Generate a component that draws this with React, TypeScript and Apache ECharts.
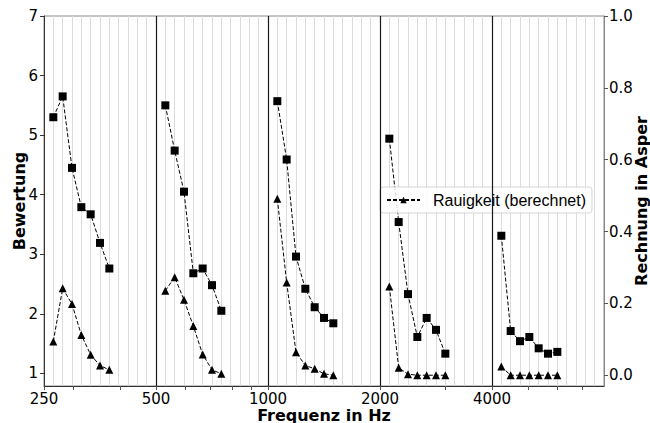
import React, { useEffect, useRef } from "react";
import * as echarts from "echarts";

// Octave bands (x axis major labels)
const octaveFreqs = [250, 500, 1000, 2000, 4000];
const octaveLabels = ["250", "500", "1000", "2000", "4000"];
// semitone steps within each band where measurements sit
const stepPositions = [1, 2, 3, 4, 5, 6, 7];
// log-scale minor tick frequencies
const minorTickFreqs = [300, 400, 600, 700, 800, 900, 3000, 5000, 6000, 7000];

// Bewertung (left axis), one array per octave band
const bewertung250 = [5.3, 5.65, 4.45, 3.79, 3.67, 3.19, 2.76];
const bewertung500 = [5.5, 4.74, 4.05, 2.68, 2.76, 2.48, 2.05];
const bewertung1000 = [5.57, 4.59, 2.96, 2.42, 2.11, 1.93, 1.84];
const bewertung2000 = [4.94, 3.54, 2.33, 1.61, 1.93, 1.73, 1.33];
const bewertung4000 = [3.31, 1.71, 1.54, 1.61, 1.42, 1.33, 1.36];

// Rauigkeit (berechnet) in Asper (right axis)
const rauigkeit250 = [0.094, 0.242, 0.198, 0.112, 0.057, 0.027, 0.015];
const rauigkeit500 = [0.235, 0.273, 0.21, 0.137, 0.058, 0.015, 0.004];
const rauigkeit1000 = [0.491, 0.258, 0.064, 0.027, 0.018, 0.004, 0.0];
const rauigkeit2000 = [0.247, 0.021, 0.003, 0.0, 0.0, 0.0, 0.0];
const rauigkeit4000 = [0.024, 0.0, 0.0, 0.0, 0.0, 0.0, 0.0];

const leftTicks = [1, 2, 3, 4, 5, 6, 7];
const rightTicks = [0, 0.2, 0.4, 0.6, 0.8, 1.0];

const bewertungBands = [bewertung250, bewertung500, bewertung1000, bewertung2000, bewertung4000];
const rauigkeitBands = [rauigkeit250, rauigkeit500, rauigkeit1000, rauigkeit2000, rauigkeit4000];

const semitoneOf = (f: number) => 12 * Math.log2(f / 250);

export default function App() {
  const ref = useRef<HTMLDivElement>(null);
  useEffect(() => {
    if (!ref.current) return;
    const chart = echarts.init(ref.current, null, { renderer: "svg" });
    const tickFont = "DejaVu Sans";
    const titleFont = "DejaVu Sans";
    const majorPos = octaveFreqs.map(semitoneOf);
    const minorPos = minorTickFreqs.map(semitoneOf);

    const dashed = { color: "#000", width: 1, type: [4, 2] as any };
    const series: any[] = [];
    bewertungBands.forEach((band, b) => {
      series.push({
        name: "Bewertung",
        type: "line",
        xAxisIndex: 0,
        yAxisIndex: 0,
        symbol: "rect",
        symbolSize: 8,
        itemStyle: { color: "#000" },
        lineStyle: dashed,
        data: band.map((v, i) => [semitoneOf(octaveFreqs[b]) + stepPositions[i], v]),
        z: 3,
      });
    });
    rauigkeitBands.forEach((band, b) => {
      series.push({
        name: "Rauigkeit (berechnet)",
        type: "line",
        xAxisIndex: 0,
        yAxisIndex: 1,
        symbol: "triangle",
        symbolSize: 8,
        itemStyle: { color: "#000" },
        lineStyle: dashed,
        data: band.map((v, i) => [semitoneOf(octaveFreqs[b]) + stepPositions[i], v]),
        z: 3,
        markLine:
          b === 0
            ? {
                silent: true,
                symbol: "none",
                label: { show: false },
                lineStyle: { color: "#1a1a1a", width: 1.2, type: "solid" },
                data: octaveFreqs.slice(1).map((f) => ({ xAxis: semitoneOf(f) })),
              }
            : undefined,
      });
    });

    chart.setOption({
      animation: false,
      grid: {
        left: 44,
        right: 46,
        top: 16,
        bottom: 37,
        show: true,
        borderColor: "#888",
        borderWidth: 1,
        containLabel: false,
        outerBoundsMode: "none",
      },
      legend: {
        data: ["Rauigkeit (berechnet)"],
        left: 380,
        top: 187,
        itemWidth: 33,
        itemHeight: 8,
        padding: [5, 6, 5, 6],
        backgroundColor: "rgba(255,255,255,0.85)",
        borderColor: "#d5d5d5",
        borderWidth: 1,
        borderRadius: 3,
        textStyle: {
          fontFamily: "Liberation Sans",
          fontSize: 16,
          color: "#000",
          padding: [0, 2, 0, 8],
        },
      },
      xAxis: [
        {
          type: "value",
          min: 0,
          max: 60,
          name: "Frequenz in Hz",
          nameLocation: "middle",
          nameGap: 21,
          nameMoveOverlap: false,
          nameTextStyle: { fontFamily: titleFont, fontWeight: "bold", fontSize: 16, color: "#000" },
          axisLine: { show: true, onZero: false, lineStyle: { color: "#333", width: 1 } },
          axisTick: {
            show: true,
            length: 4,
            customValues: [...majorPos, ...minorPos],
            lineStyle: { color: "#555" },
          },
          axisLabel: {
            customValues: majorPos,
            formatter: (v: number) => octaveLabels[Math.round(v / 12)] ?? "",
            fontFamily: tickFont,
            fontSize: 15,
            color: "#000",
            margin: 5,
          },
          splitLine: { show: false },
        },
        {
          type: "value",
          min: 0,
          max: 60,
          interval: 1,
          position: "bottom",
          axisLine: { show: false, onZero: false },
          axisTick: { show: false },
          axisLabel: { show: false },
          splitLine: { show: true, lineStyle: { color: "#dcdcdc", width: 1 } },
        },
      ],
      yAxis: [
        {
          type: "value",
          min: 0.787,
          max: 7,
          position: "left",
          name: "Bewertung",
          nameLocation: "middle",
          nameGap: 17,
          nameMoveOverlap: false,
          nameTextStyle: { fontFamily: titleFont, fontWeight: "bold", fontSize: 16, color: "#000" },
          axisLine: { show: true, onZero: false, lineStyle: { color: "#333" } },
          axisTick: { show: true, length: 4, customValues: leftTicks, lineStyle: { color: "#333" } },
          axisLabel: {
            customValues: leftTicks,
            formatter: (v: number) => String(Math.round(v)),
            fontFamily: tickFont,
            fontSize: 15,
            color: "#000",
            margin: 6,
          },
          splitLine: { show: false },
        },
        {
          type: "value",
          min: -0.03,
          max: 1.0,
          position: "right",
          name: "Rechnung in Asper",
          nameLocation: "middle",
          nameRotate: 90,
          nameGap: 29,
          nameMoveOverlap: false,
          nameTextStyle: { fontFamily: titleFont, fontWeight: "bold", fontSize: 16, color: "#000" },
          axisLine: { show: true, onZero: false, lineStyle: { color: "#888" } },
          axisTick: { show: true, length: 4, customValues: rightTicks, lineStyle: { color: "#555" } },
          axisLabel: {
            customValues: rightTicks,
            formatter: (v: number) => v.toFixed(1),
            fontFamily: tickFont,
            fontSize: 15,
            color: "#000",
            margin: 5,
          },
          splitLine: { show: false },
        },
      ],
      series,
    });
    return () => chart.dispose();
  }, []);
  return (
    <div
      ref={ref}
      style={{ position: "absolute", left: 0, top: 0, width: 650, height: 423, background: "#fff" }}
    />
  );
}
